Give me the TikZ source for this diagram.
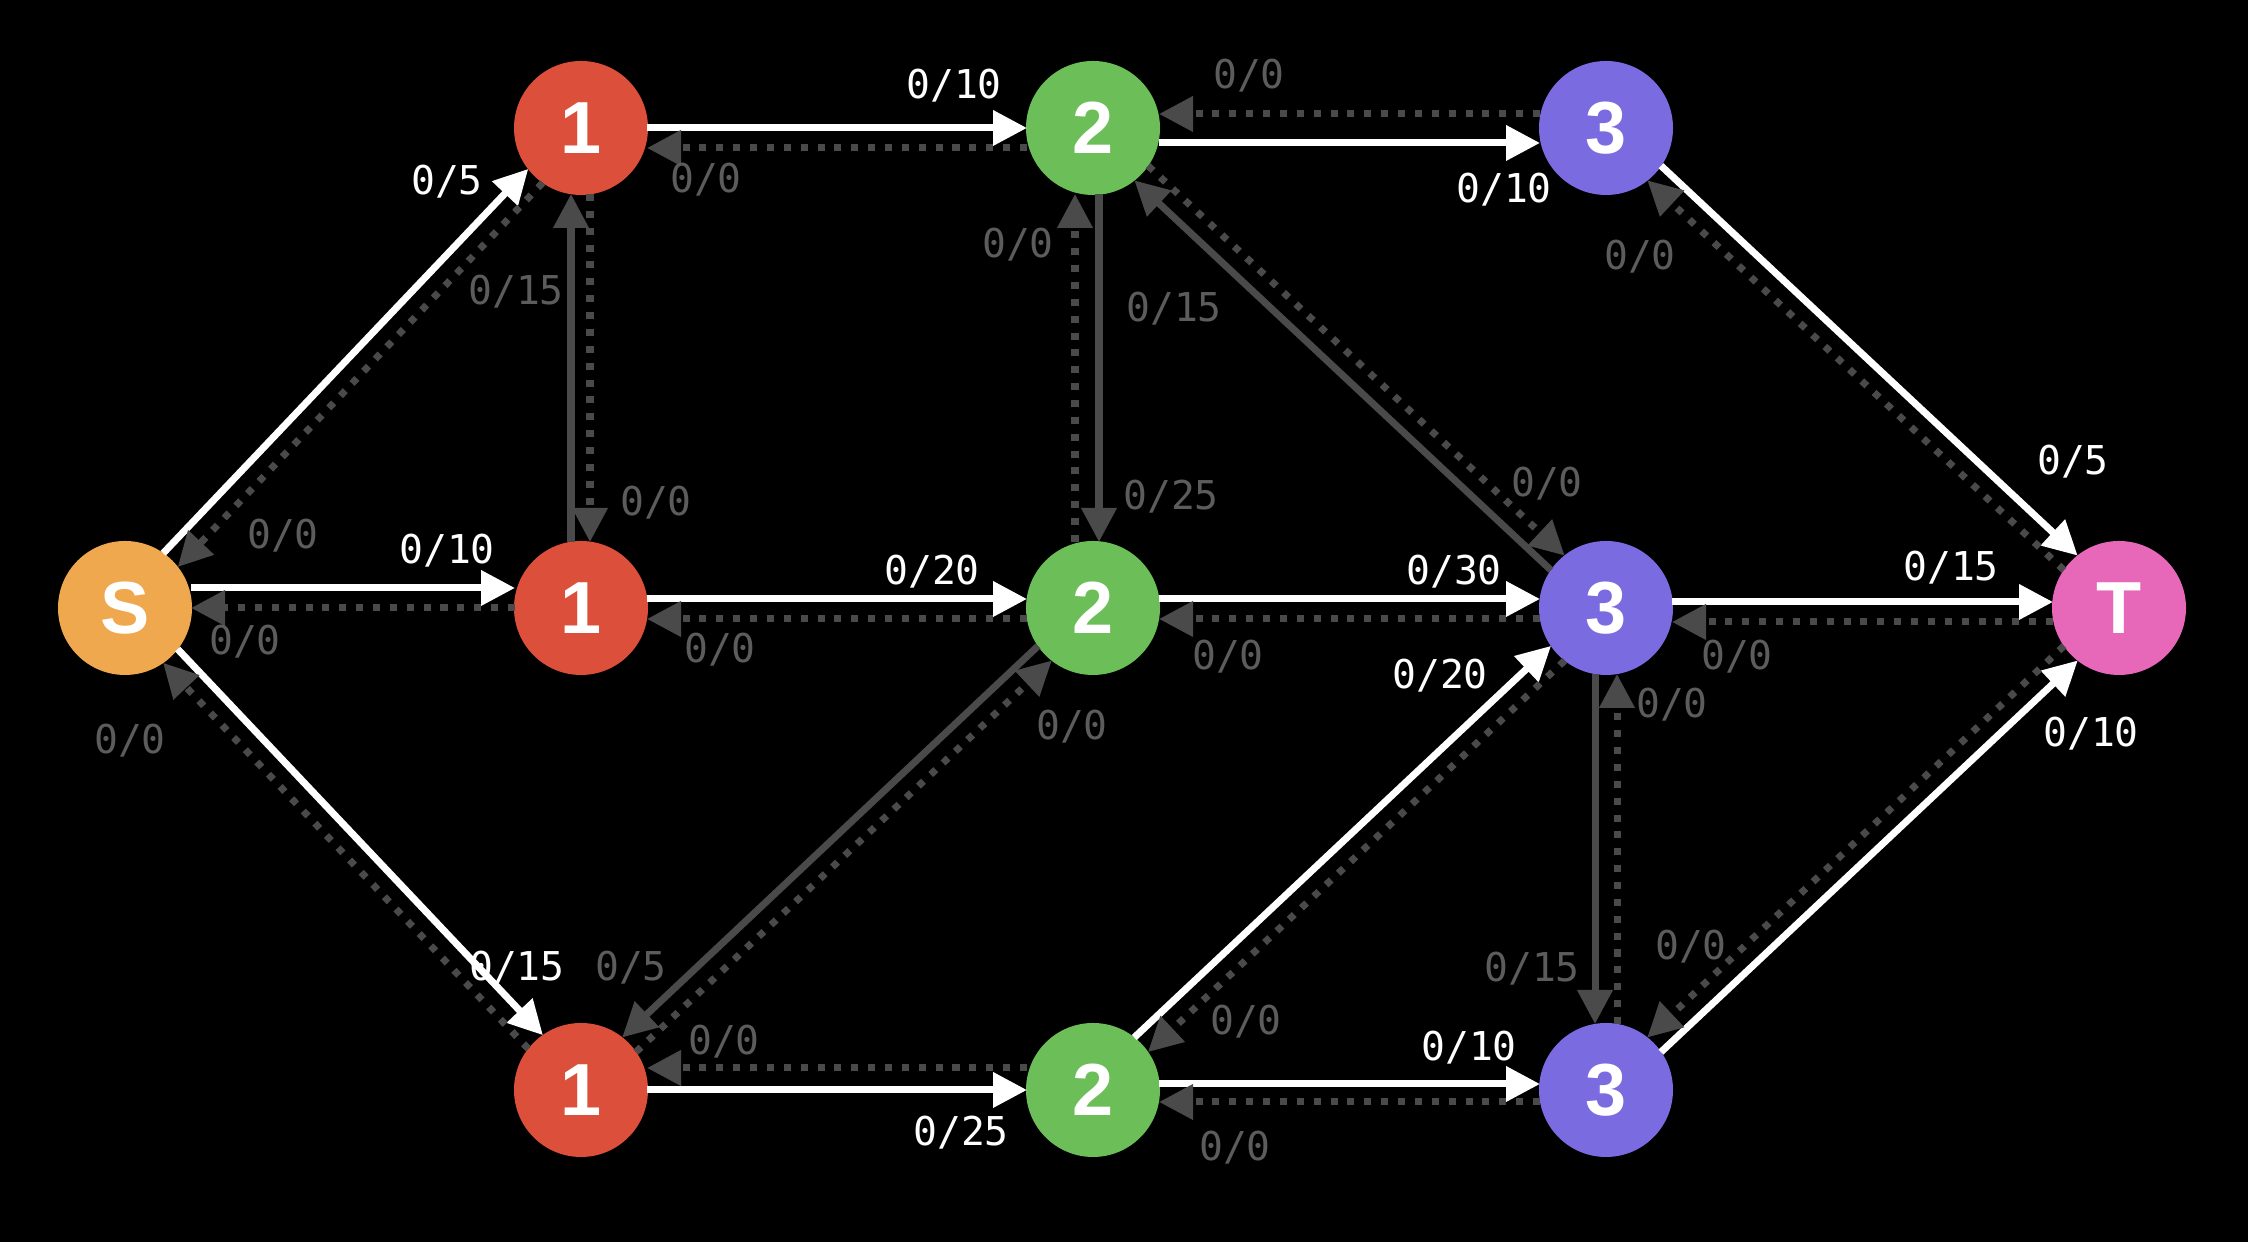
\documentclass[tikz,border=0pt]{standalone}
\usepackage{fontspec}
\usetikzlibrary{arrows.meta, calc}
\newfontfamily\vertexfont{Liberation Sans}
\newfontfamily\flowfont{DejaVu Sans Mono}
\definecolor{srcorange}{HTML}{EFA84E}
\definecolor{lvlred}{HTML}{DC4F3B}
\definecolor{lvlgreen}{HTML}{6CBF58}
\definecolor{lvlpurple}{HTML}{7B6BE1}
\definecolor{sinkpink}{HTML}{E767B9}
\definecolor{edgegray}{HTML}{4A4A4A}
\definecolor{labelgray}{HTML}{5C5C5C}

\begin{document}
\begin{tikzpicture}[
    vertex/.style={circle, minimum size=1.34cm, inner sep=0pt, text=white,
        font={\vertexfont\bfseries\fontsize{21pt}{21pt}\selectfont}},
    lvl/.style={draw=white, line width=2pt, -{Triangle[length=0.34cm, width=0.34cm]},
        shorten <=0.66cm, shorten >=0.66cm},
    dim/.style={lvl, draw=edgegray},
    resid/.style={dim, dash pattern=on 2pt off 2.8pt},
    flow/.style={text=white, inner sep=0pt, font={\flowfont\fontsize{11.3pt}{12pt}\selectfont}},
    flowgray/.style={flow, text=labelgray}
]
    % Background
    \fill[black] (0,0) rectangle (22.48,12.42);
    \useasboundingbox (0,0) rectangle (22.48,12.42);

    % Vertices by level
    \node[vertex, fill=srcorange] (s) at (1.25,6.34) {S};
    \node[vertex, fill=lvlred] (a1) at (5.81,11.14) {1};
    \node[vertex, fill=lvlred] (a2) at (5.81,6.34) {1};
    \node[vertex, fill=lvlred] (a3) at (5.81,1.52) {1};
    \node[vertex, fill=lvlgreen] (b1) at (10.93,11.14) {2};
    \node[vertex, fill=lvlgreen] (b2) at (10.93,6.34) {2};
    \node[vertex, fill=lvlgreen] (b3) at (10.93,1.52) {2};
    \node[vertex, fill=lvlpurple] (c1) at (16.06,11.14) {3};
    \node[vertex, fill=lvlpurple] (c2) at (16.06,6.34) {3};
    \node[vertex, fill=lvlpurple] (c3) at (16.06,1.52) {3};
    \node[vertex, fill=sinkpink] (t) at (21.19,6.34) {T};

    % Edges (offset to the left of u->v) and their residual edges
    \foreach \u/\v/\fwdoff/\resoff/\kind in {s/a1/0.1cm/-0.1cm/lvl, s/a2/0.2cm/0cm/lvl,
        s/a3/0.1cm/-0.1cm/lvl, a1/b1/0cm/-0.2cm/lvl, b1/c1/-0.15cm/0.14cm/lvl,
        a2/a1/0.1cm/-0.09cm/dim, a2/b2/0.09cm/-0.11cm/lvl, a3/b3/0cm/0.22cm/lvl,
        b2/a3/-0.1cm/0.1cm/dim, b1/b2/0.06cm/-0.18cm/dim, c2/b1/0.1cm/-0.1cm/dim,
        c1/t/0.1cm/-0.1cm/lvl, b2/c2/0.09cm/-0.11cm/lvl, c2/t/0.06cm/-0.14cm/lvl,
        b3/c2/0.1cm/-0.1cm/lvl, c2/c3/-0.11cm/0.11cm/dim, b3/c3/0.06cm/-0.12cm/lvl,
        c3/t/-0.1cm/0.1cm/lvl} {
        \draw[\kind] ($(\u)!\fwdoff!90:(\v)$) -- ($(\v)!\fwdoff!-90:(\u)$);
        \draw[resid] ($(\v)!\resoff!-90:(\u)$) -- ($(\u)!\resoff!90:(\v)$);
    }

    % Flow labels
    \foreach \x/\y/\c [count=\i] in {4.47/10.60/5, 4.47/6.91/10, 5.17/2.74/15,
        9.54/11.56/10, 9.32/6.70/20, 9.61/1.09/25, 15.04/10.52/10, 14.54/6.70/30,
        14.40/5.66/20, 14.69/1.94/10, 20.73/7.80/5, 19.51/6.74/15, 20.91/5.08/10} {
        \node[flow] (fl\i) at (\x,\y) {0/\c};
    }
    \foreach \x/\y/\c [count=\i] in {2.83/7.06/0, 2.45/6.00/0, 1.30/5.01/0,
        5.16/9.50/15, 6.56/7.39/0, 7.06/10.62/0, 7.20/5.92/0, 6.31/2.74/5,
        7.24/2.00/0, 10.72/5.15/0, 10.18/9.97/0, 11.74/9.33/15, 11.71/7.45/25,
        12.49/11.66/0, 16.40/9.85/0, 15.47/7.58/0, 12.28/5.85/0, 17.37/5.85/0,
        16.72/5.37/0, 15.32/2.73/15, 12.46/2.20/0, 12.35/0.94/0, 16.91/2.95/0} {
        \node[flowgray] (rl\i) at (\x,\y) {0/\c};
    }
\end{tikzpicture}
\end{document}
